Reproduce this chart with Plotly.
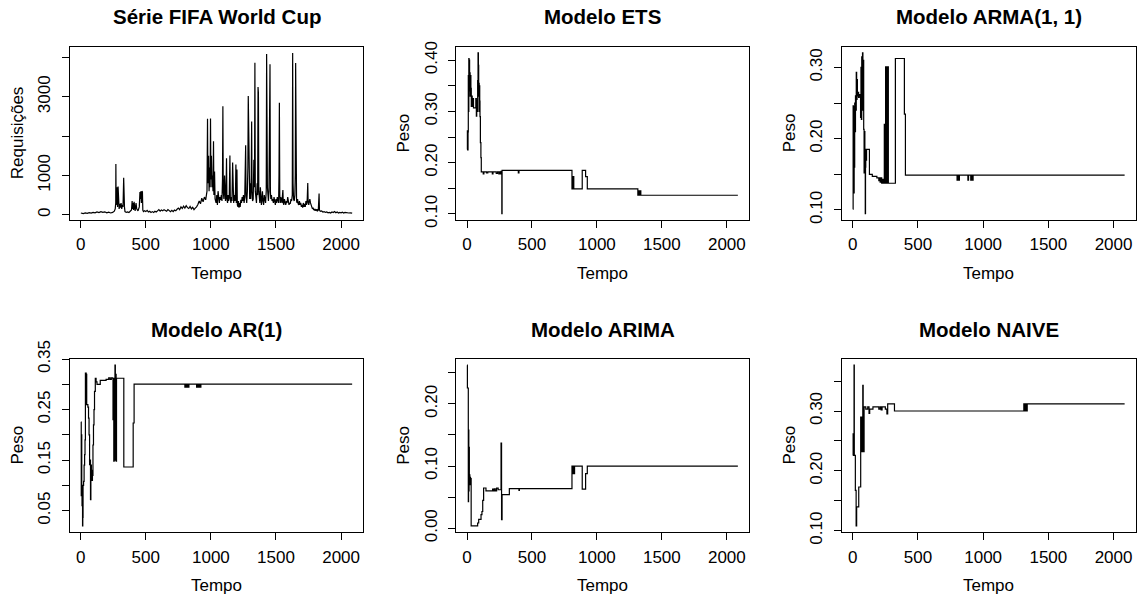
import plotly.graph_objects as go

W, H = 1137, 597
N = 2085

# ---------------- data ----------------
fifa_t = [1, 5, 20, 35, 50, 65, 80, 95, 110, 125, 140, 155, 170, 185, 200, 215, 230, 245, 258, 265, 269, 270, 272, 275, 277, 280, 283, 287, 290, 295, 300, 305, 310, 315, 320, 325, 330, 332, 336, 340, 350, 360, 370, 380, 390, 395, 398, 402, 406, 410, 414, 418, 425, 430, 440, 450, 455, 458, 462, 466, 470, 474, 477, 482, 490, 500, 510, 520, 530, 540, 550, 560, 570, 580, 590, 600, 610, 620, 630, 640, 650, 660, 670, 680, 690, 700, 710, 720, 730, 740, 750, 760, 770, 780, 790, 800, 810, 820, 830, 840, 850, 860, 870, 880, 890, 900, 910, 920, 930, 940, 950, 960, 970, 974, 977, 982, 986, 990, 994, 997, 1000, 1004, 1008, 1012, 1016, 1020, 1023, 1028, 1032, 1040, 1045, 1050, 1055, 1060, 1065, 1070, 1075, 1080, 1085, 1089, 1092, 1095, 1100, 1105, 1108, 1112, 1116, 1120, 1123, 1128, 1132, 1136, 1141, 1146, 1149, 1154, 1158, 1162, 1167, 1170, 1175, 1180, 1185, 1189, 1192, 1195, 1200, 1203, 1208, 1212, 1216, 1220, 1225, 1230, 1235, 1240, 1245, 1250, 1255, 1260, 1264, 1267, 1270, 1275, 1280, 1284, 1287, 1290, 1293, 1298, 1302, 1306, 1310, 1313, 1316, 1320, 1325, 1330, 1335, 1338, 1341, 1345, 1350, 1355, 1359, 1362, 1365, 1368, 1372, 1376, 1380, 1384, 1388, 1392, 1396, 1400, 1405, 1410, 1415, 1420, 1425, 1428, 1431, 1434, 1438, 1442, 1446, 1450, 1454, 1457, 1460, 1465, 1470, 1475, 1480, 1485, 1490, 1495, 1500, 1505, 1510, 1515, 1520, 1523, 1526, 1529, 1533, 1537, 1541, 1546, 1550, 1553, 1556, 1560, 1565, 1570, 1575, 1580, 1585, 1590, 1595, 1600, 1605, 1610, 1615, 1620, 1625, 1628, 1631, 1635, 1640, 1645, 1648, 1651, 1654, 1658, 1662, 1666, 1670, 1675, 1680, 1685, 1690, 1695, 1700, 1705, 1710, 1715, 1720, 1725, 1730, 1735, 1740, 1744, 1747, 1752, 1756, 1760, 1765, 1770, 1775, 1780, 1785, 1790, 1795, 1800, 1805, 1810, 1815, 1820, 1825, 1828, 1831, 1834, 1840, 1850, 1860, 1870, 1880, 1890, 1900, 1910, 1920, 1930, 1940, 1950, 1960, 1970, 1980, 1990, 2000, 2010, 2020, 2030, 2040, 2050, 2060, 2070, 2085]
fifa_v = [45, 40, 30, 45, 35, 55, 40, 60, 50, 70, 55, 80, 60, 75, 50, 65, 45, 60, 90, 150, 300, 1290, 250, 800, 300, 700, 200, 720, 250, 150, 280, 180, 300, 150, 250, 200, 940, 250, 200, 80, 60, 70, 55, 90, 120, 350, 150, 300, 120, 330, 200, 100, 300, 150, 100, 200, 580, 400, 600, 300, 600, 580, 120, 80, 100, 80, 110, 70, 90, 60, 80, 60, 90, 70, 100, 130, 90, 120, 100, 130, 110, 90, 130, 100, 80, 110, 80, 120, 100, 140, 170, 130, 200, 160, 220, 170, 230, 180, 160, 210, 150, 190, 130, 170, 200, 260, 350, 280, 420, 330, 450, 380, 600, 2440, 800, 1500, 600, 1200, 700, 2450, 900, 1500, 700, 1000, 600, 1870, 500, 1100, 400, 300, 500, 250, 600, 350, 300, 450, 380, 500, 350, 900, 2760, 600, 400, 1000, 450, 350, 500, 1440, 400, 300, 500, 350, 450, 1510, 400, 300, 450, 350, 1330, 400, 300, 500, 350, 600, 1280, 300, 1150, 250, 200, 350, 180, 300, 200, 380, 300, 450, 350, 500, 300, 450, 900, 1770, 500, 300, 600, 1200, 3020, 2190, 500, 400, 800, 400, 1000, 2370, 600, 350, 400, 1400, 700, 3870, 600, 400, 300, 800, 500, 3250, 3100, 600, 400, 300, 700, 300, 250, 400, 600, 350, 250, 500, 400, 300, 600, 4090, 2400, 700, 400, 350, 600, 3100, 3830, 600, 400, 500, 350, 400, 300, 450, 350, 250, 400, 300, 450, 350, 300, 1000, 2850, 500, 300, 450, 350, 300, 500, 630, 300, 250, 400, 300, 250, 350, 300, 450, 350, 250, 300, 280, 400, 350, 500, 4118, 800, 400, 350, 500, 1000, 3860, 500, 350, 300, 400, 280, 250, 350, 250, 300, 200, 250, 180, 300, 200, 280, 200, 350, 250, 400, 810, 300, 250, 350, 400, 300, 250, 200, 150, 180, 120, 150, 100, 130, 110, 140, 100, 120, 300, 540, 120, 90, 100, 70, 80, 60, 70, 50, 60, 45, 70, 55, 80, 50, 70, 45, 60, 50, 65, 45, 60, 50, 55, 45, 50, 40]

ets_t = [1, 3, 5, 8, 10, 12, 14, 16, 18, 20, 22, 24, 26, 28, 30, 33, 36, 40, 45, 50, 60, 68, 72, 75, 78, 82, 85, 88, 90, 92, 94, 96, 98, 100, 103, 107, 110, 125, 130, 150, 160, 195, 200, 225, 235, 245, 250, 255, 262, 268, 270, 395, 400, 808, 812, 815, 818, 822, 887, 913, 926, 1315, 1320, 1325, 1330, 1338, 2085]
ets_v = [0.226, 0.262, 0.225, 0.26, 0.37, 0.30, 0.403, 0.38, 0.40, 0.34, 0.375, 0.33, 0.36, 0.37, 0.345, 0.31, 0.33, 0.31, 0.325, 0.307, 0.307, 0.325, 0.291, 0.32, 0.30, 0.36, 0.4141, 0.39, 0.33, 0.355, 0.30, 0.35, 0.32, 0.29, 0.239, 0.21, 0.182, 0.178, 0.182, 0.180, 0.182, 0.178, 0.182, 0.179, 0.182, 0.178, 0.182, 0.178, 0.183, 0.1008, 0.185, 0.18, 0.185, 0.149, 0.173, 0.149, 0.173, 0.149, 0.185, 0.173, 0.149, 0.1365, 0.145, 0.1365, 0.145, 0.1365, 0.1365]

arma_t = [1, 3, 5, 7, 9, 11, 13, 15, 18, 21, 24, 27, 30, 33, 36, 40, 45, 50, 55, 60, 63, 66, 69, 72, 75, 78, 81, 84, 87, 90, 93, 96, 98, 100, 104, 106, 128, 150, 185, 200, 205, 210, 215, 222, 230, 237, 242, 245, 248, 250, 252, 255, 258, 261, 264, 267, 270, 273, 327, 396, 404, 800, 806, 813, 818, 883, 888, 905, 910, 918, 923, 2085]
arma_v = [0.101, 0.246, 0.13, 0.245, 0.124, 0.2, 0.16, 0.25, 0.21, 0.26, 0.24, 0.293, 0.255, 0.283, 0.26, 0.265, 0.258, 0.262, 0.26, 0.23, 0.30, 0.227, 0.315, 0.24, 0.3204, 0.28, 0.31, 0.213, 0.152, 0.21, 0.16, 0.0949, 0.16, 0.185, 0.17, 0.185, 0.150, 0.147, 0.145, 0.141, 0.145, 0.139, 0.145, 0.1375, 0.143, 0.1375, 0.22, 0.1375, 0.22, 0.1375, 0.301, 0.1375, 0.301, 0.14, 0.301, 0.1375, 0.301, 0.1375, 0.3126, 0.2345, 0.1488, 0.1417, 0.1488, 0.1417, 0.1488, 0.1417, 0.1488, 0.1417, 0.1488, 0.1417, 0.1488, 0.1488]

ar_t = [1, 4, 6, 8, 10, 12, 14, 16, 18, 22, 26, 30, 33, 36, 38, 40, 42, 44, 46, 55, 60, 64, 68, 72, 75, 78, 82, 86, 90, 94, 98, 102, 106, 112, 118, 125, 150, 195, 215, 225, 235, 245, 248, 251, 254, 257, 260, 263, 266, 269, 272, 275, 331, 403, 410, 800, 806, 812, 817, 825, 831, 890, 896, 904, 912, 918, 923, 2085]
ar_v = [0.2255, 0.08, 0.2, 0.10, 0.06, 0.10, 0.020, 0.037, 0.10, 0.108, 0.14, 0.161, 0.19, 0.322, 0.26, 0.322, 0.26, 0.32, 0.26, 0.255, 0.233, 0.20, 0.141, 0.15, 0.072, 0.14, 0.13, 0.11, 0.12, 0.18, 0.22, 0.25, 0.286, 0.312, 0.305, 0.30, 0.308, 0.31, 0.313, 0.31, 0.313, 0.312, 0.23, 0.312, 0.148, 0.30, 0.16, 0.338, 0.15, 0.32, 0.148, 0.312, 0.1365, 0.2235, 0.3006, 0.2946, 0.3006, 0.2946, 0.3006, 0.2946, 0.3006, 0.2946, 0.3006, 0.2946, 0.3006, 0.2946, 0.3006, 0.3006]

arima_t = [1, 3, 10, 12, 14, 16, 18, 20, 22, 24, 27, 30, 32, 82, 90, 108, 115, 121, 128, 146, 197, 202, 210, 218, 228, 240, 262, 266, 270, 326, 400, 403, 808, 812, 816, 822, 828, 887, 913, 926, 2085]
arima_v = [0.2623, 0.2255, 0.043, 0.158, 0.06, 0.13, 0.075, 0.086, 0.07, 0.082, 0.072, 0.08, 0.0039, 0.0085, 0.0145, 0.022, 0.027, 0.045, 0.0648, 0.06, 0.063, 0.06, 0.0635, 0.06, 0.0645, 0.062, 0.137, 0.0138, 0.054, 0.0637, 0.061, 0.0637, 0.1, 0.088, 0.1, 0.088, 0.1, 0.063, 0.088, 0.1, 0.1]

naive_t = [1, 3, 5, 8, 10, 12, 17, 20, 26, 30, 38, 46, 55, 61, 64, 67, 70, 73, 75, 77, 80, 82, 84, 87, 100, 115, 125, 130, 140, 155, 200, 210, 218, 225, 250, 262, 268, 320, 1312, 1318, 1323, 1330, 1338, 2085]
naive_v = [0.226, 0.262, 0.226, 0.262, 0.3767, 0.226, 0.226, 0.1675, 0.108, 0.14, 0.1396, 0.173, 0.173, 0.29, 0.232, 0.29, 0.24, 0.29, 0.232, 0.343, 0.24, 0.30, 0.232, 0.307, 0.303, 0.307, 0.296, 0.303, 0.303, 0.307, 0.303, 0.307, 0.302, 0.307, 0.303, 0.295, 0.312, 0.30, 0.312, 0.30, 0.312, 0.30, 0.312, 0.312]

x_ticks = [0, 500, 1000, 1500, 2000]
x_ticktext = ["0", "500", "1000", "1500", "2000"]

panels = [
    dict(title="Série FIFA World Cup", ylab="Requisições", t=fifa_t, v=fifa_v, shape="linear",
         yt=[0, 1000, 2000, 3000, 4000], ytt=["0", "1000", "", "3000", ""]),
    dict(title="Modelo ETS", ylab="Peso", t=ets_t, v=ets_v, shape="hv",
         yt=[0.10, 0.15, 0.20, 0.25, 0.30, 0.35, 0.40], ytt=["0.10", "", "0.20", "", "0.30", "", "0.40"]),
    dict(title="Modelo ARMA(1, 1)", ylab="Peso", t=arma_t, v=arma_v, shape="hv",
         yt=[0.10, 0.15, 0.20, 0.25, 0.30], ytt=["0.10", "", "0.20", "", "0.30"]),
    dict(title="Modelo AR(1)", ylab="Peso", t=ar_t, v=ar_v, shape="hv",
         yt=[0.05, 0.10, 0.15, 0.20, 0.25, 0.30, 0.35], ytt=["0.05", "", "0.15", "", "0.25", "", "0.35"]),
    dict(title="Modelo ARIMA", ylab="Peso", t=arima_t, v=arima_v, shape="hv",
         yt=[0.00, 0.05, 0.10, 0.15, 0.20, 0.25], ytt=["0.00", "", "0.10", "", "0.20", ""]),
    dict(title="Modelo NAIVE", ylab="Peso", t=naive_t, v=naive_v, shape="hv",
         yt=[0.10, 0.15, 0.20, 0.25, 0.30, 0.35], ytt=["0.10", "", "0.20", "", "0.30", ""]),
]

# ---------------- layout (pixel boxes) ----------------
cols = [(70, 363), (456.3, 748.7), (842, 1135.5)]
rows = [(46.5, 220), (358.7, 532.3)]

FONT = "Liberation Sans, Arial, sans-serif"
TICK = 17
TITLE = 20.5


def rrange(a, b):
    r = b - a
    return [a - 0.04 * r, b + 0.04 * r]


fig = go.Figure()
layout = dict(width=W, height=H, margin=dict(l=0, r=0, t=0, b=0, autoexpand=False),
              paper_bgcolor="white", plot_bgcolor="white", showlegend=False,
              font=dict(family=FONT, size=TICK, color="black"))
annotations = []

for i, p in enumerate(panels):
    r, c = divmod(i, 3)
    L, R = cols[c]
    T, B = rows[r]
    k = "" if i == 0 else str(i + 1)
    fig.add_trace(go.Scatter(x=p["t"], y=p["v"], mode="lines",
                             line=dict(color="black", width=1.2, shape=p["shape"]),
                             xaxis="x" + k, yaxis="y" + k, hoverinfo="skip"))
    axcommon = dict(showgrid=False, zeroline=False, showline=True, mirror=True,
                    automargin=False,
                    linecolor="black", linewidth=1, ticks="outside", ticklen=7,
                    tickcolor="black", tickwidth=1,
                    tickfont=dict(family=FONT, size=TICK, color="black"))
    layout["xaxis" + k] = dict(axcommon, domain=[L / W, R / W], anchor="y" + k,
                               range=rrange(1, N), tickmode="array",
                               tickvals=x_ticks, ticktext=x_ticktext,
                               ticklabelstandoff=2)
    layout["yaxis" + k] = dict(axcommon, domain=[1 - B / H, 1 - T / H], anchor="x" + k,
                               range=rrange(min(p["v"]), max(p["v"])), tickmode="array",
                               tickvals=p["yt"], ticktext=p["ytt"], tickangle=-90,
                               ticklabelstandoff=5)
    cx = (L + R) / 2 / W
    annotations.append(dict(text="<b>" + p["title"] + "</b>", x=cx, y=1 - (T - 29.5) / H,
                            xref="paper", yref="paper", showarrow=False,
                            xanchor="center", yanchor="middle",
                            font=dict(family=FONT, size=TITLE, color="black")))
    annotations.append(dict(text="Tempo", x=cx, y=1 - (B + 53) / H,
                            xref="paper", yref="paper", showarrow=False,
                            xanchor="center", yanchor="middle",
                            font=dict(family=FONT, size=TICK, color="black")))
    annotations.append(dict(text=p["ylab"], x=(L - 53) / W, y=1 - (T + B) / 2 / H,
                            xref="paper", yref="paper", showarrow=False, textangle=-90,
                            xanchor="center", yanchor="middle",
                            font=dict(family=FONT, size=TICK, color="black")))

layout["annotations"] = annotations
fig.update_layout(**layout)
fig.write_html("out.html")
